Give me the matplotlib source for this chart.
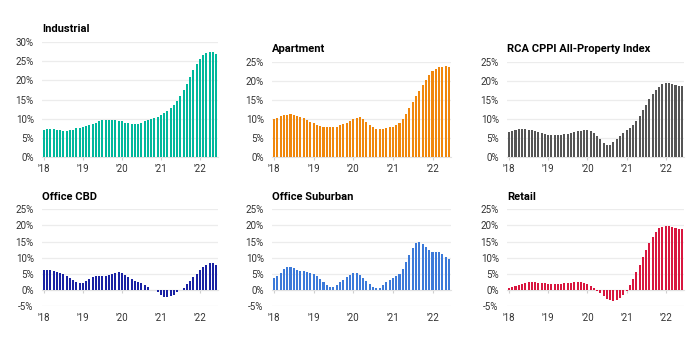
import numpy as np
import matplotlib.pyplot as plt

plt.rcParams['font.family'] = ['Roboto', 'DejaVu Sans']

# monthly YoY change, Jan 2018 - Jun 2022
year_labels = ["'18", "'19", "'20", "'21", "'22"]
year_pos = [0, 12, 24, 36, 48]

industrial = [7.2, 7.3, 7.4, 7.4, 7.2, 7.0, 6.9, 6.9, 7.0, 7.2, 7.5, 7.7,
              7.9, 8.2, 8.4, 8.7, 9.0, 9.4, 9.7, 9.8, 9.8, 9.8, 9.7, 9.5,
              9.3, 9.0, 8.8, 8.7, 8.6, 8.7, 9.0, 9.3, 9.7, 10.0, 10.3, 10.5,
              10.9, 11.4, 12.0, 12.7, 13.6, 14.7, 15.9, 17.4, 19.1, 20.9, 22.6, 24.3,
              25.6, 26.5, 27.0, 27.2, 27.2, 26.7]
apartment = [9.9, 10.3, 10.7, 11.0, 11.1, 11.2, 11.1, 10.9, 10.6, 10.2, 9.8, 9.3,
             8.9, 8.5, 8.1, 7.9, 7.8, 7.8, 7.8, 8.0, 8.3, 8.6, 9.0, 9.5,
             9.9, 10.3, 10.4, 10.0, 9.3, 8.5, 7.8, 7.4, 7.3, 7.4, 7.6, 7.8,
             8.0, 8.4, 9.0, 10.0, 11.3, 12.8, 14.4, 15.9, 17.4, 18.8, 20.2, 21.4,
             22.4, 23.1, 23.5, 23.6, 23.7, 23.6]
rca_cppi = [6.5, 6.8, 7.2, 7.3, 7.3, 7.3, 7.2, 7.1, 6.8, 6.6, 6.3, 6.1,
            5.9, 5.8, 5.8, 5.8, 5.8, 6.0, 6.2, 6.4, 6.6, 6.8, 6.9, 7.0,
            7.0, 6.8, 6.3, 5.6, 4.7, 3.7, 3.2, 3.2, 3.9, 4.8, 5.6, 6.4,
            7.0, 7.7, 8.5, 9.6, 10.9, 12.3, 13.7, 15.3, 16.6, 17.5, 18.4, 19.1,
            19.5, 19.5, 19.1, 18.8, 18.7, 18.5]
office_cbd = [6.1, 6.3, 6.2, 5.8, 5.4, 5.1, 4.8, 4.4, 3.8, 3.0, 2.3, 2.0,
              2.1, 2.8, 3.5, 4.0, 4.3, 4.4, 4.4, 4.4, 4.6, 5.0, 5.3, 5.4,
              5.2, 4.7, 4.0, 3.4, 2.8, 2.4, 2.0, 1.5, 0.8, 0.0, -0.1, -0.8,
              -1.5, -2.1, -2.2, -2.0, -1.5, -0.7, 0.0, 0.7, 1.7, 2.8, 3.9, 5.0,
              6.1, 7.0, 7.8, 8.4, 8.3, 7.6]
office_suburban = [3.8, 4.3, 5.2, 6.4, 7.2, 7.2, 6.8, 6.3, 6.0, 5.9, 5.7, 5.3,
                   4.8, 4.2, 3.5, 2.6, 1.5, 1.0, 1.0, 1.6, 2.3, 3.1, 3.9, 4.7,
                   5.2, 5.3, 4.7, 3.8, 2.7, 1.7, 0.9, 0.5, 0.6, 1.4, 2.4, 3.2,
                   3.8, 4.2, 5.0, 6.5, 8.6, 10.8, 13.0, 14.5, 14.9, 14.2, 13.2, 12.3,
                   11.8, 11.8, 11.6, 11.0, 10.3, 9.5]
retail = [0.5, 0.8, 1.1, 1.4, 1.8, 2.1, 2.3, 2.4, 2.3, 2.2, 2.1, 2.0,
          1.9, 1.8, 1.8, 1.8, 1.9, 2.0, 2.1, 2.2, 2.3, 2.3, 2.3, 2.1,
          1.8, 1.3, 0.6, -0.3, -1.1, -2.0, -2.8, -3.2, -3.4, -3.2, -2.6, -1.6,
          -0.2, 1.5, 3.3, 5.4, 7.7, 10.1, 12.4, 14.6, 16.5, 18.0, 19.1, 19.6,
          19.8, 19.8, 19.5, 19.2, 19.0, 18.8]

W, H = 700, 354
# title, data, colour, (left, right, top, bottom) in px, y range
panels = [
    ('Industrial', industrial, '#00b89c', (42, 218, 41.7, 157.3), (0, 30)),
    ('Apartment', apartment, '#f0870c', (272, 451, 61.5, 157.3), (0, 25)),
    ('RCA CPPI All-Property Index', rca_cppi, '#555555', (507, 684, 61.5, 157.3), (0, 25)),
    ('Office CBD', office_cbd, '#1a22a3', (42, 218, 209.3, 306), (-5, 25)),
    ('Office Suburban', office_suburban, '#3c7ad9', (272, 451, 209.3, 306), (-5, 25)),
    ('Retail', retail, '#d8173f', (507, 684, 209.3, 306), (-5, 25)),
]

fig = plt.figure(figsize=(7, 3.54), dpi=100)

for title, vals, color, (l, r, t, b), (ylo, yhi) in panels:
    ax = fig.add_axes([l / W, 1 - b / H, (r - l) / W, (b - t) / H])
    x = np.arange(len(vals))
    ax.bar(x, vals, width=0.62, color=color, zorder=3)
    ax.set_xlim(-0.6, len(vals) - 0.4)
    ax.set_ylim(ylo, yhi)
    yt = list(range(ylo, yhi + 1, 5))
    ax.set_yticks(yt)
    ax.set_yticklabels([f'{v}%' for v in yt])
    ax.grid(axis='y', color='#ececec', lw=0.9, zorder=0)
    for s in ['top', 'right', 'left']:
        ax.spines[s].set_visible(False)
    ax.spines['bottom'].set_position(('data', 0))
    ax.spines['bottom'].set_color('#e2e2e2')
    ax.set_xticks(year_pos)
    ax.set_xticklabels(year_labels)
    pad = 3 if ylo == 0 else 15
    ax.tick_params(axis='x', length=2, width=0.8, color='#cfcfcf', pad=pad,
                   labelsize=7, labelcolor='#333333')
    ax.tick_params(axis='y', length=0, pad=6, labelsize=7, labelcolor='#333333')
    ax.set_title(title, loc='left', fontsize=8, fontweight='bold', pad=7)

fig.savefig('out.png', dpi=100)
